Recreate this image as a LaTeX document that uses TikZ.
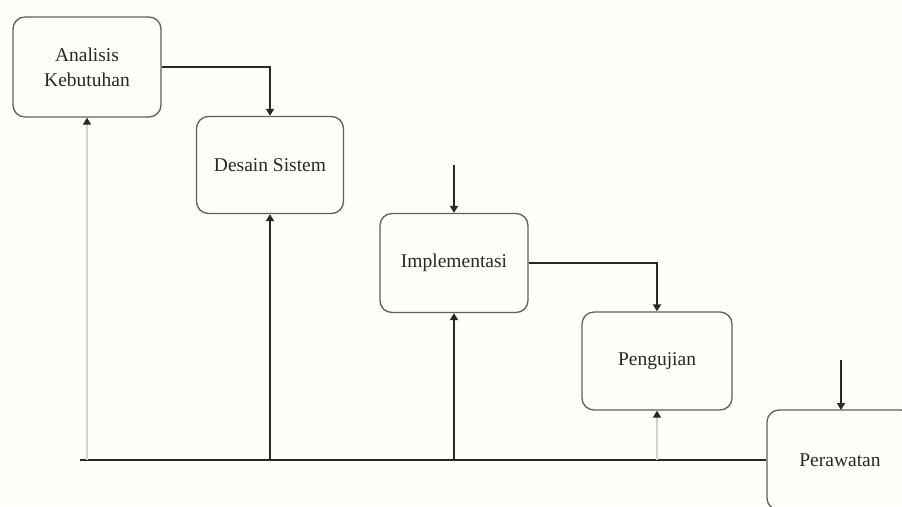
\documentclass[tikz,border=0pt]{standalone}
\usepackage{fontspec}
\setmainfont{Liberation Serif}
\usetikzlibrary{arrows.meta}
\definecolor{paper}{RGB}{253,253,250}
\definecolor{ink}{RGB}{40,40,40}
\definecolor{edge}{RGB}{95,95,95}
\tikzset{
  stage/.style={draw=edge, line width=1.3pt, rounded corners=12pt, align=center,
    font=\fontsize{19.5}{25}\selectfont, text=ink},
  flow/.style={draw=ink, line width=1.8pt, -{Triangle[length=7pt,width=8pt]}},
  link/.style={draw=ink, line width=1.8pt},
  faint/.style={draw=black!18, line width=1.2pt, -{Triangle[length=7pt,width=8pt,color=ink]}}
}
\begin{document}
\begin{tikzpicture}[x=1pt,y=-1pt]
  \useasboundingbox (0,0) rectangle (902,506);
  \fill[paper] (0,0) rectangle (902,506);
  \clip (0,0) rectangle (902,506);

  % waterfall stages
  \node[stage, minimum width=148pt, minimum height=100pt] (analisis) at (87,67) {Analisis\\Kebutuhan};
  \node[stage, minimum width=147pt, minimum height=97pt] (desain) at (270,165) {Desain Sistem};
  \node[stage, minimum width=148pt, minimum height=99pt] (impl) at (454,263) {Implementasi};
  \node[stage, minimum width=150pt, minimum height=98pt] (uji) at (657,361) {Pengujian};
  \node[stage, minimum width=146pt, minimum height=100pt] (rawat) at (840,460) {Perawatan};

  % forward flow
  \draw[flow] (analisis.east) -| (desain.north);
  \coordinate (implIn) at (454,165);
  \draw[flow] (implIn) -- (impl.north);
  \draw[flow] (impl.east) -| (uji.north);
  \coordinate (rawatIn) at (841,360);
  \draw[flow] (rawatIn) -- (841,410);

  % feedback line along the bottom
  \coordinate (fbStart) at (80,460);
  \coordinate (fbA) at (87,460);
  \coordinate (fbD) at (270,460);
  \coordinate (fbI) at (454,460);
  \coordinate (fbU) at (657,460);
  \draw[link] (fbStart) -- (rawat.west);
  \draw[faint] (fbA) -- (analisis.south);
  \draw[flow] (fbD) -- (desain.south);
  \draw[flow] (fbI) -- (impl.south);
  \draw[faint] (fbU) -- (uji.south);
\end{tikzpicture}
\end{document}
